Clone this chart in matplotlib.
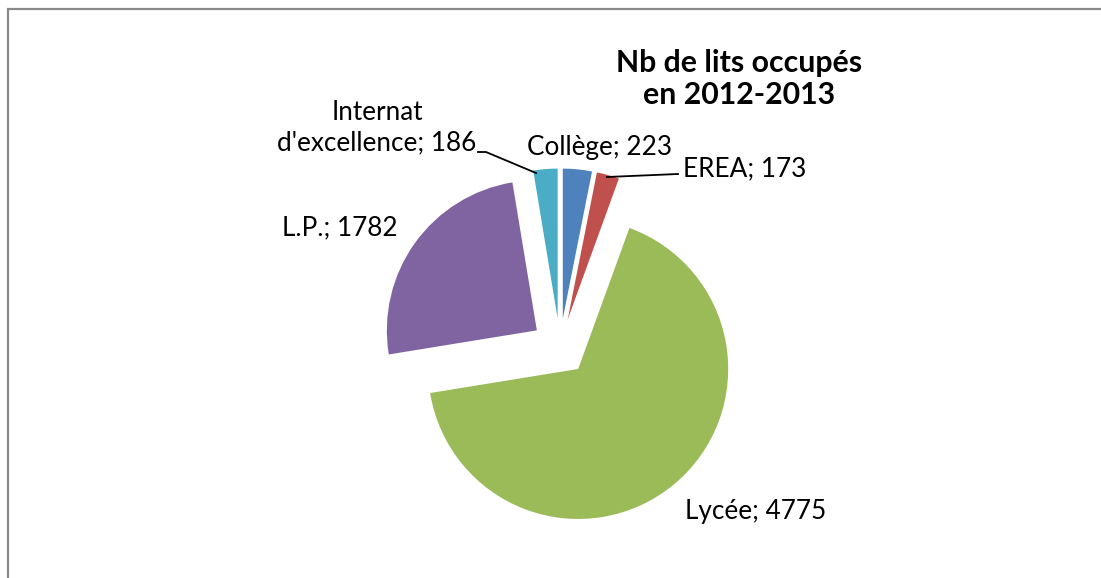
import matplotlib.pyplot as plt
from matplotlib.patches import Rectangle

# data
labels = ["Collège", "EREA", "Lycée", "L.P.", "Internat\nd'excellence"]
values = [223, 173, 4775, 1782, 186]
colors = ["#4F81BD", "#C0504D", "#9BBB59", "#8064A2", "#4BACC6"]
title = "Nb de lits occupés\nen 2012-2013"

W, H = 1101, 578
plt.rcParams["font.family"] = ["Lato", "DejaVu Sans"]

fig = plt.figure(figsize=(W / 100, H / 100), dpi=100)
ax = fig.add_axes([0, 0, 1, 1])


def Y(y):
    # pixel row (from top) -> data y
    return H - y


R = 150
# explode offset is in data units here (pixels)
ax.pie(values, explode=[0.19 * R] * len(values), startangle=90, counterclock=False,
       center=(560, Y(347)), radius=R, colors=colors,
       wedgeprops=dict(linewidth=0))
ax.set_xlim(0, W)
ax.set_ylim(0, H)
ax.set_aspect("equal")
ax.axis("off")

fs = 18.8
# data labels
txt = [f"{l}; {v}" for l, v in zip(labels, values)]
ax.text(600, Y(147), txt[0], fontsize=fs, ha="center", va="center")
ax.text(683, Y(169), txt[1], fontsize=fs, ha="left", va="center")
ax.text(685, Y(511), txt[2], fontsize=fs, ha="left", va="center")
ax.text(398, Y(228), txt[3], fontsize=fs, ha="right", va="center")
ax.text(377, Y(128), txt[4], fontsize=fs, ha="center", va="center",
        linespacing=1.27)

# leader lines
ax.plot([478, 486, 536], [Y(152), Y(152), Y(173)], color="black", lw=1.3)
ax.plot([678, 607], [Y(174), Y(177)], color="black", lw=1.3)

ax.text(739, Y(79), title, fontsize=21.8, fontweight="bold", ha="center",
        va="center", linespacing=1.2)

fig.add_artist(Rectangle((7.5 / W, -0.1), 1.2, 1.1 - 9 / H,
                         transform=fig.transFigure, fill=False,
                         edgecolor="#898989", lw=1.6))

fig.savefig("out.png", dpi=100)
